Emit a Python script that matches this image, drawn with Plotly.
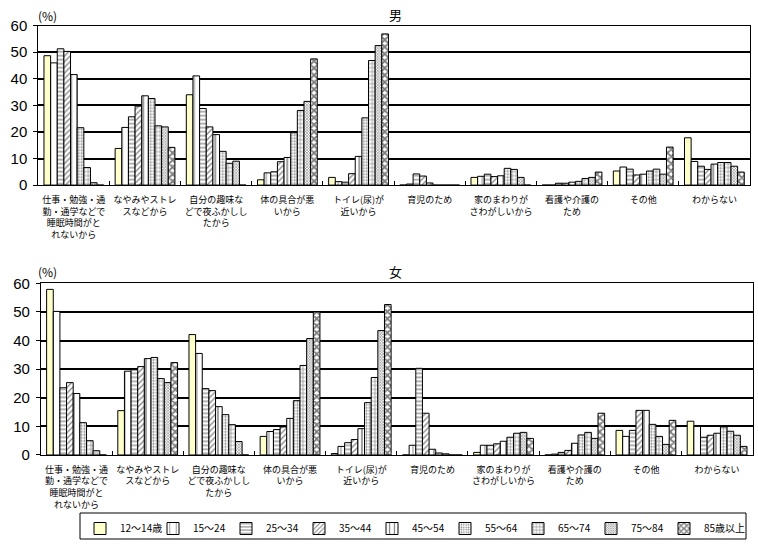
import plotly.graph_objects as go

categories = [
    "仕事・勉強・通<br>勤・通学などで<br>睡眠時間がと<br>れないから",
    "なやみやストレ<br>スなどから",
    "自分の趣味な<br>どで夜ふかしし<br>たから",
    "体の具合が悪<br>いから",
    "トイレ(尿)が<br>近いから",
    "育児のため",
    "家のまわりが<br>さわがしいから",
    "看護や介護の<br>ため",
    "その他",
    "わからない",
]
age_groups = ["12～14歳", "15～24", "25～34", "35～44", "45～54",
              "55～64", "65～74", "75～84", "85歳以上"]

# rows: age groups, columns: categories
male = [
    [48.7, 13.8, 34.0, 2.0, 2.9, 0.0, 2.9, 0.0, 5.3, 17.8],
    [46.0, 21.7, 41.1, 4.6, 1.3, 0.4, 3.3, 0.0, 6.8, 8.9],
    [51.3, 25.7, 28.8, 5.0, 1.1, 4.2, 4.1, 0.7, 6.0, 7.1],
    [50.3, 29.7, 21.9, 8.8, 4.3, 3.4, 3.2, 0.7, 3.8, 5.9],
    [41.6, 33.6, 19.0, 10.4, 10.8, 0.8, 3.5, 1.1, 4.1, 7.9],
    [21.6, 32.6, 12.7, 19.7, 25.3, 0.0, 6.3, 1.4, 5.3, 8.5],
    [6.6, 22.3, 8.2, 28.1, 46.9, 0.0, 5.9, 2.5, 6.0, 8.5],
    [0.9, 21.9, 9.0, 31.5, 52.5, 0.0, 2.9, 2.9, 4.1, 7.1],
    [0.0, 14.2, 0.0, 47.5, 56.9, 0.0, 0.0, 4.9, 14.3, 4.9],
]
female = [
    [57.9, 15.5, 42.1, 6.5, 0.5, 0.0, 0.9, 0.0, 8.6, 11.8],
    [50.2, 29.3, 35.5, 8.2, 3.0, 3.4, 3.4, 0.3, 6.5, 10.0],
    [23.5, 29.8, 23.2, 8.9, 4.3, 30.3, 3.4, 0.9, 8.6, 6.2],
    [25.3, 30.9, 22.5, 9.8, 5.4, 14.6, 3.9, 1.6, 15.6, 6.9],
    [21.5, 33.7, 16.9, 12.8, 9.2, 2.0, 4.8, 4.1, 15.6, 7.6],
    [11.3, 34.1, 14.1, 19.0, 18.3, 0.7, 6.2, 7.0, 10.7, 9.8],
    [5.0, 26.7, 10.6, 31.3, 27.1, 0.4, 7.6, 7.9, 6.5, 8.3],
    [1.5, 25.3, 4.7, 40.7, 43.5, 0.0, 7.9, 5.8, 3.7, 6.9],
    [0.0, 32.3, 0.0, 50.0, 52.6, 0.0, 5.8, 14.6, 12.1, 3.0],
]

styles = [
    dict(color="#FFFFCC", pattern=dict(shape="")),
    dict(color="white", pattern=dict(shape="|", size=8, solidity=0.12, fgcolor="black")),
    dict(color="white", pattern=dict(shape="-", size=4, solidity=0.3, fgcolor="black")),
    dict(color="white", pattern=dict(shape="/", size=4, solidity=0.3, fgcolor="black")),
    dict(color="white", pattern=dict(shape="|", size=6, solidity=0.25, fgcolor="black")),
    dict(color="white", pattern=dict(shape=".", size=3, solidity=0.35, fgcolor="black")),
    dict(color="white", pattern=dict(shape="+", size=4, solidity=0.3, fgcolor="black")),
    dict(color="white", pattern=dict(shape="x", size=2, solidity=0.5, fgcolor="black")),
    dict(color="white", pattern=dict(shape="x", size=5, solidity=0.6, fgcolor="black")),
]

FONT = "Noto Sans CJK JP"
fig = go.Figure()
for panel, data in enumerate([male, female]):
    xa = "x" if panel == 0 else "x2"
    ya = "y" if panel == 0 else "y2"
    for i, name in enumerate(age_groups):
        st = styles[i]
        fig.add_trace(go.Bar(
            x=categories, y=data[i], name=name, xaxis=xa, yaxis=ya,
            showlegend=(panel == 1), legendgroup=name,
            marker=dict(color=st["color"], pattern=st["pattern"],
                        line=dict(color="black", width=1)),
        ))

axis_common = dict(showline=True, linecolor="black", linewidth=1, mirror=True,
                   automargin=False)
xcommon = dict(axis_common, type="category", ticks="inside", tickson="boundaries",
               ticklen=4, tickcolor="black", showgrid=False, tickangle=0,
               ticklabelstandoff=6,
               tickfont=dict(family=FONT, size=9, color="black"))
ycommon = dict(axis_common, range=[0, 60], dtick=10, ticks="outside", ticklen=4,
               tickcolor="black", showgrid=True, gridcolor="black", gridwidth=1.5,
               ticklabelstandoff=3,
               tickfont=dict(family="Liberation Sans", size=15, color="black"),
               zeroline=False)

W, H = 758, 546
ann_font = dict(family=FONT, size=13, color="black")
fig.update_layout(
    width=W, height=H,
    margin=dict(l=0, r=0, t=0, b=0),
    paper_bgcolor="white", plot_bgcolor="white",
    barmode="group", bargap=0.16, bargroupgap=0,
    xaxis=dict(xcommon, domain=[0.0505, 0.9894], anchor="y"),
    yaxis=dict(ycommon, domain=[0.661, 0.953], anchor="x"),
    xaxis2=dict(xcommon, domain=[0.054, 0.993], anchor="y2"),
    yaxis2=dict(ycommon, domain=[0.1667, 0.481], anchor="x2"),
    legend=dict(orientation="h", x=80 / W, y=1 - 514 / H, xanchor="left", yanchor="top",
                borderwidth=0, bgcolor="rgba(0,0,0,0)", itemwidth=30,
                entrywidth=28, entrywidthmode="pixels",
                font=dict(family=FONT, size=10, color="black")),
    shapes=[dict(type="rect", xref="paper", yref="paper",
                 x0=80 / W, x1=746 / W, y0=1 - 539 / H, y1=1 - 513 / H,
                 line=dict(color="black", width=1), fillcolor="rgba(0,0,0,0)")],
    annotations=[
        dict(text="男", x=395 / W, y=1 - 14 / H, xref="paper", yref="paper",
             showarrow=False, xanchor="center", yanchor="middle", font=ann_font),
        dict(text="女", x=395 / W, y=1 - 271 / H, xref="paper", yref="paper",
             showarrow=False, xanchor="center", yanchor="middle", font=ann_font),
        dict(text="(%)", x=47 / W, y=1 - 15 / H, xref="paper", yref="paper",
             showarrow=False, xanchor="center", yanchor="middle",
             font=dict(family=FONT, size=12, color="black")),
        dict(text="(%)", x=47 / W, y=1 - 271 / H, xref="paper", yref="paper",
             showarrow=False, xanchor="center", yanchor="middle",
             font=dict(family=FONT, size=12, color="black")),
    ],
)

fig.write_html(
    "out.html",
    config={"displayModeBar": False},
    post_script=(
        "document.body.style.margin='0';"
        "document.querySelectorAll('.legend .scrollbox').forEach("
        "function(e){e.removeAttribute('clip-path');});"
    ),
)
